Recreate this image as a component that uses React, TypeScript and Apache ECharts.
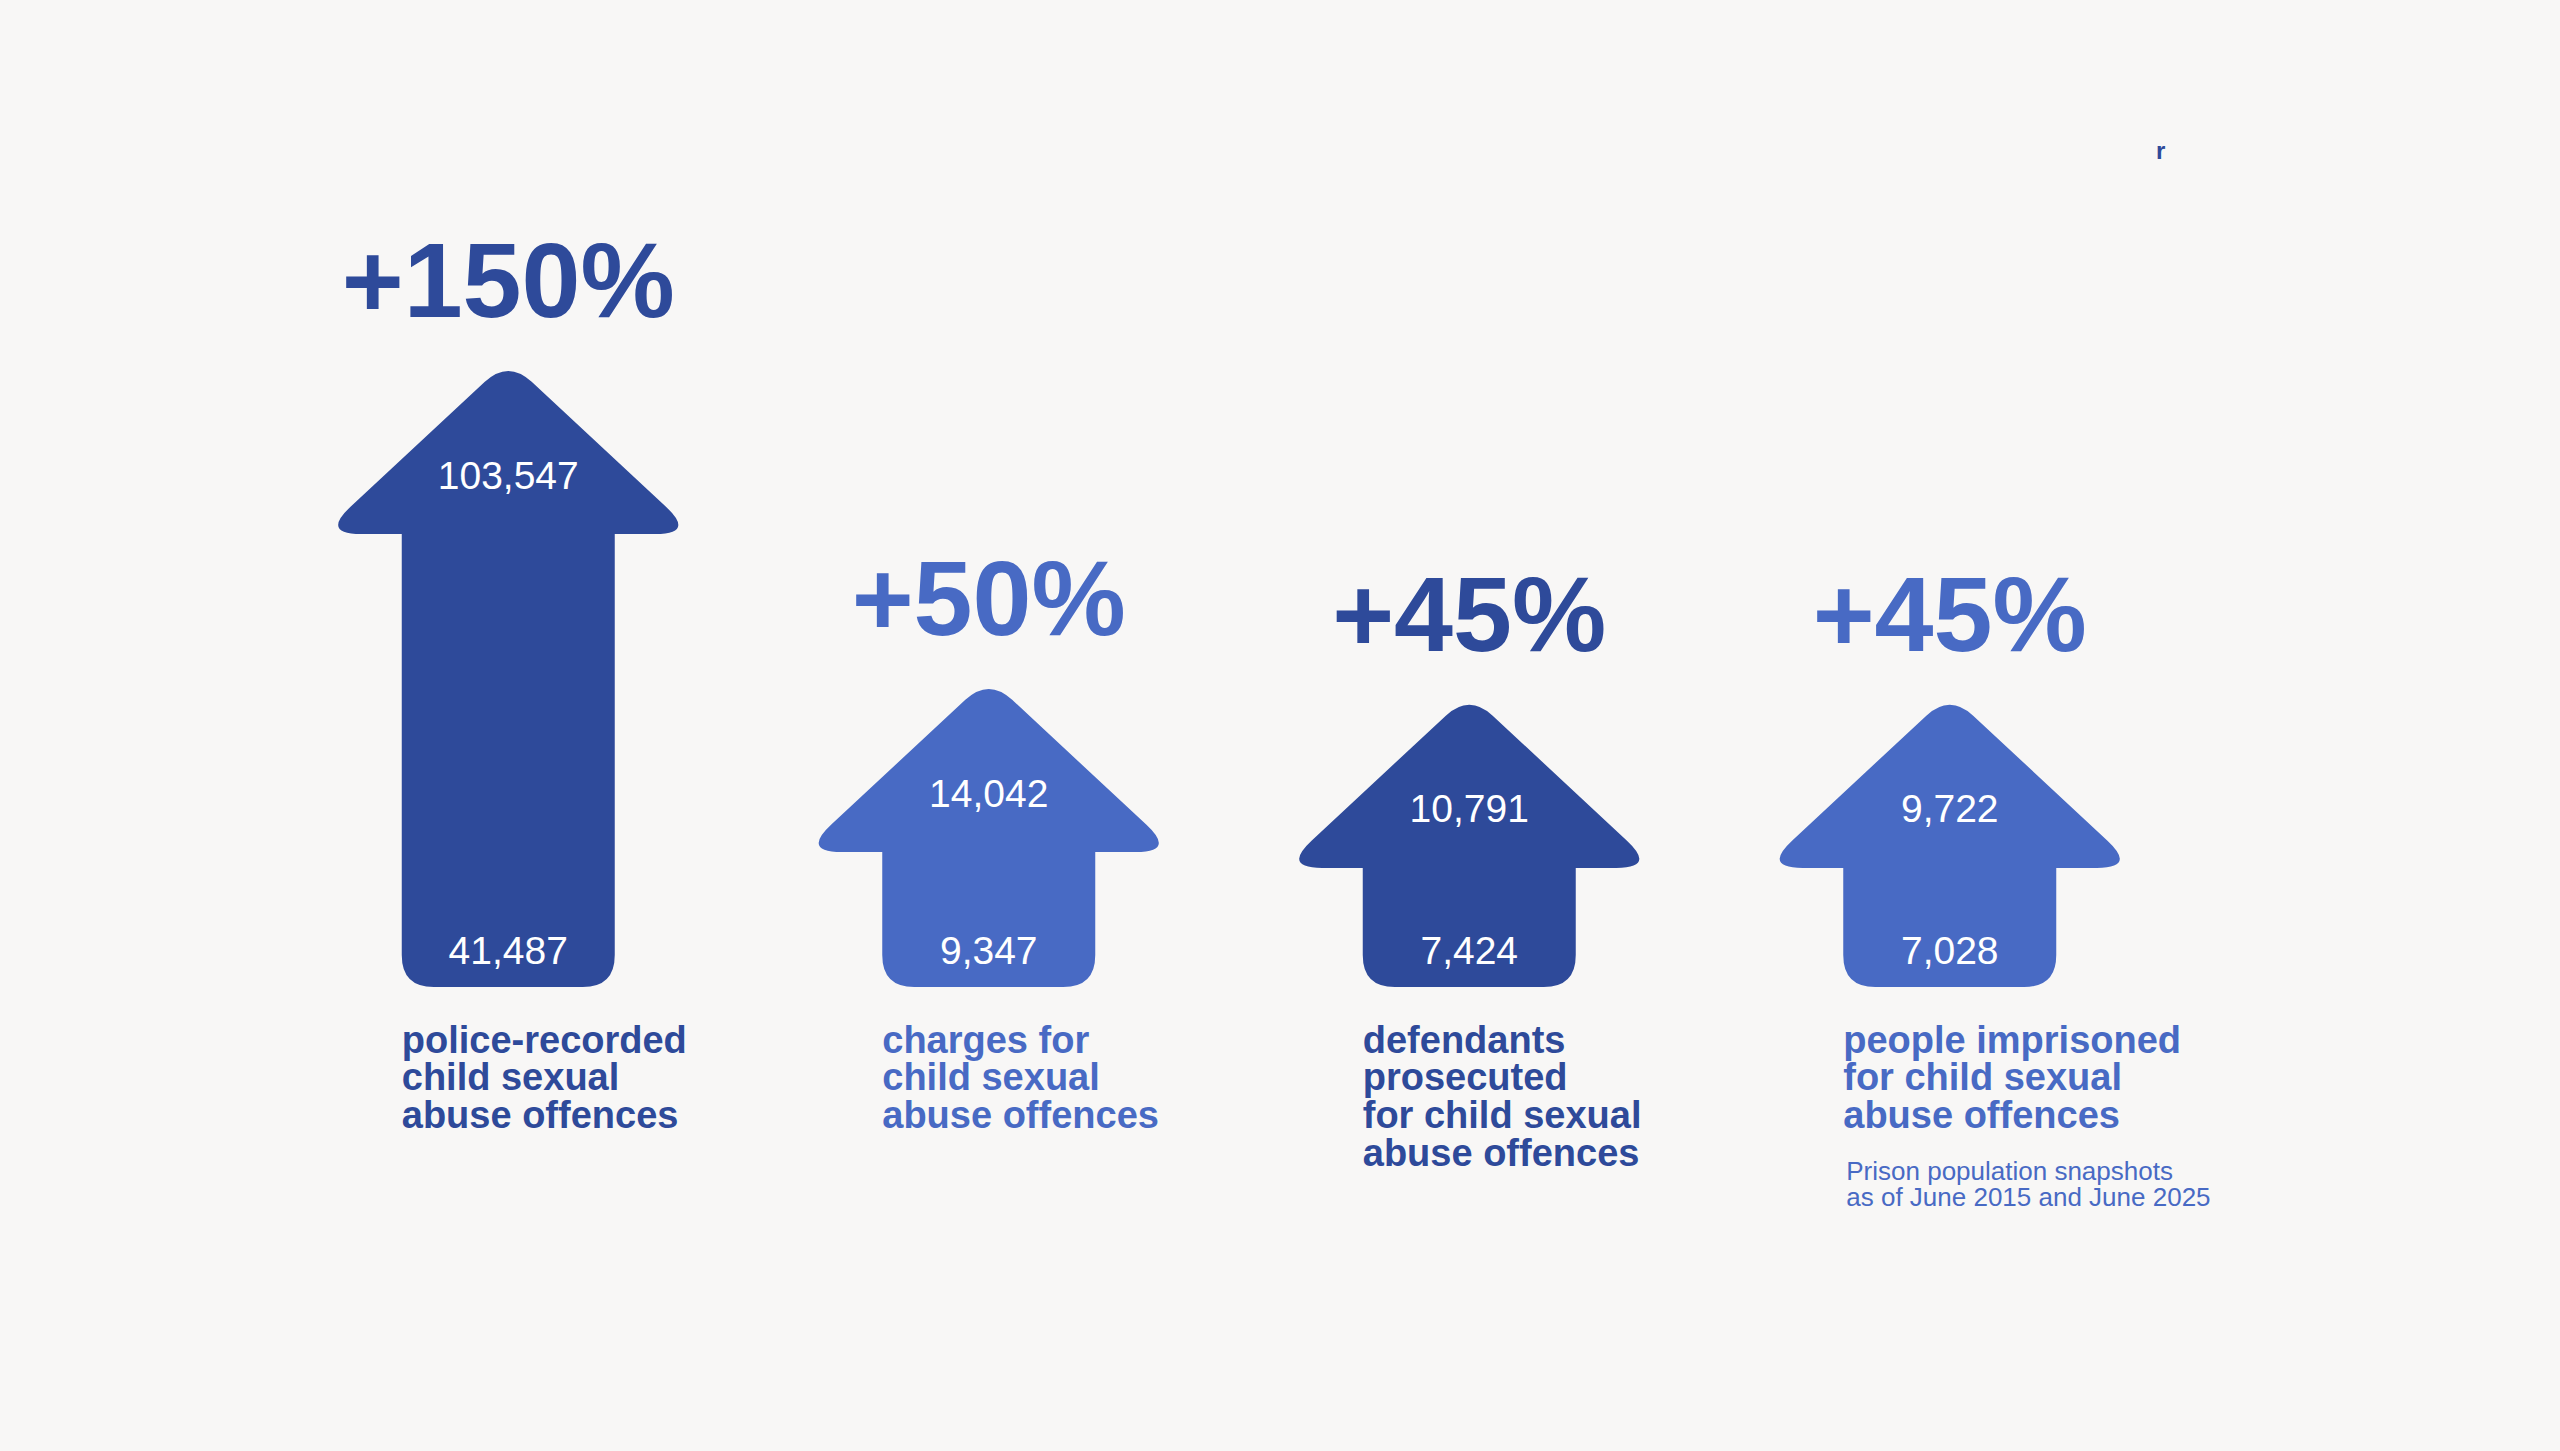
import React, { useEffect, useRef } from "react";
import * as echarts from "echarts";

// ---- data ----
const categories = [
  "police-recorded\nchild sexual\nabuse offences",
  "charges for\nchild sexual\nabuse offences",
  "defendants\nprosecuted\nfor child sexual\nabuse offences",
  "people imprisoned\nfor child sexual\nabuse offences",
];
const values2015 = [41487, 9347, 7424, 7028];
const values2025 = [103547, 14042, 10791, 9722];
const pctChange = [150, 50, 45, 45];
const notes = ["", "", "", "Prison population snapshots\nas of June 2015 and June 2025"];

// ---- styles ----
const DARK = "#2E4A9A";
const LIGHT = "#486AC4";
const palette = [DARK, LIGHT, DARK, LIGHT];
const FONT = "'Helvetica Neue', 'Liberation Sans', Arial, sans-serif";
const BG = "#F8F7F6";

function roundedPath(pts: number[][], rs: number[]): string {
  const n = pts.length;
  let d = "";
  for (let k = 0; k < n; k++) {
    const p = pts[k];
    const prev = pts[(k - 1 + n) % n];
    const next = pts[(k + 1) % n];
    const r = rs[k];
    const cmd = k === 0 ? "M" : "L";
    if (!r) {
      d += `${cmd}${p[0]} ${p[1]} `;
      continue;
    }
    const v1x = prev[0] - p[0], v1y = prev[1] - p[1];
    const l1 = Math.hypot(v1x, v1y);
    const v2x = next[0] - p[0], v2y = next[1] - p[1];
    const l2 = Math.hypot(v2x, v2y);
    const ax = p[0] + (v1x / l1) * r, ay = p[1] + (v1y / l1) * r;
    const bx = p[0] + (v2x / l2) * r, by = p[1] + (v2y / l2) * r;
    d += `${cmd}${ax} ${ay} Q${p[0]} ${p[1]} ${bx} ${by} `;
  }
  return d + "Z";
}

export default function App() {
  const ref = useRef<HTMLDivElement>(null);

  useEffect(() => {
    document.body.style.margin = "0";
    document.body.style.background = BG;
    const chart = echarts.init(ref.current!, null, { renderer: "svg" });

    const HEAD_HW = 187;
    const HEAD_H = 174;
    const SHAFT_HW = 106.5;
    const LINE_H = 37.6;

    const option: any = {
      animation: false,
      backgroundColor: BG,
      grid: { left: 268, right: 370, top: 375, bottom: 440 },
      xAxis: { type: "category", data: categories, show: false },
      yAxis: { type: "value", min: 0, max: 200, show: false },
      graphic: [
        {
          type: "text",
          left: 2156,
          top: 138,
          style: {
            text: "r",
            fill: DARK,
            fontSize: 24,
            fontWeight: "bold",
            fontFamily: FONT,
          },
        },
      ],
      series: [
        {
          type: "custom",
          data: categories.map((c, i) => [i, pctChange[i], values2015[i], values2025[i]]),
          renderItem: (params: any, api: any) => {
            const idx = params.dataIndex;
            const color = palette[idx];
            const [cx, baseY] = api.coord([api.value(0), api.value(1)]);
            const zeroY = api.coord([api.value(0), 0])[1];
            const bottom = zeroY - 24;
            const apexY = baseY - HEAD_H;
            const pts = [
              [cx, apexY],
              [cx + HEAD_HW, baseY],
              [cx + SHAFT_HW, baseY],
              [cx + SHAFT_HW, bottom],
              [cx - SHAFT_HW, bottom],
              [cx - SHAFT_HW, baseY],
              [cx - HEAD_HW, baseY],
            ];
            const d = roundedPath(pts, [32, 40, 0, 32, 32, 0, 40]);
            const visTip = apexY + 11;
            const label = categories[idx];
            const nLines = label.split("\n").length;
            const labelTop = bottom + 34;
            const children: any[] = [
              { type: "path", shape: { pathData: d }, style: { fill: color } },
              {
                type: "text",
                style: {
                  text: "+" + api.value(1) + "%",
                  x: cx,
                  y: visTip - 91,
                  fill: color,
                  fontSize: 106,
                  fontWeight: "bold",
                  fontFamily: FONT,
                  align: "center",
                  verticalAlign: "middle",
                },
              },
              {
                type: "text",
                style: {
                  text: Number(api.value(3)).toLocaleString("en-US"),
                  x: cx,
                  y: visTip + 104,
                  fill: "#FFFFFF",
                  fontSize: 39,
                  fontFamily: FONT,
                  align: "center",
                  verticalAlign: "middle",
                },
              },
              {
                type: "text",
                style: {
                  text: Number(api.value(2)).toLocaleString("en-US"),
                  x: cx,
                  y: bottom - 37,
                  fill: "#FFFFFF",
                  fontSize: 39,
                  fontFamily: FONT,
                  align: "center",
                  verticalAlign: "middle",
                },
              },
              {
                type: "text",
                style: {
                  text: label,
                  x: cx - SHAFT_HW,
                  y: labelTop,
                  fill: color,
                  fontSize: 38,
                  lineHeight: LINE_H,
                  fontWeight: "bold",
                  fontFamily: FONT,
                  align: "left",
                  verticalAlign: "top",
                },
              },
            ];
            if (notes[idx]) {
              children.push({
                type: "text",
                style: {
                  text: notes[idx],
                  x: cx - SHAFT_HW + 3,
                  y: labelTop + nLines * LINE_H + 24,
                  fill: LIGHT,
                  fontSize: 26,
                  lineHeight: 26,
                  fontFamily: FONT,
                  align: "left",
                  verticalAlign: "top",
                },
              });
            }
            return { type: "group", children };
          },
        },
      ],
    };

    chart.setOption(option);
    return () => chart.dispose();
  }, []);

  return (
    <div
      ref={ref}
      style={{ position: "fixed", left: 0, top: 0, width: 2560, height: 1451, background: BG }}
    />
  );
}
